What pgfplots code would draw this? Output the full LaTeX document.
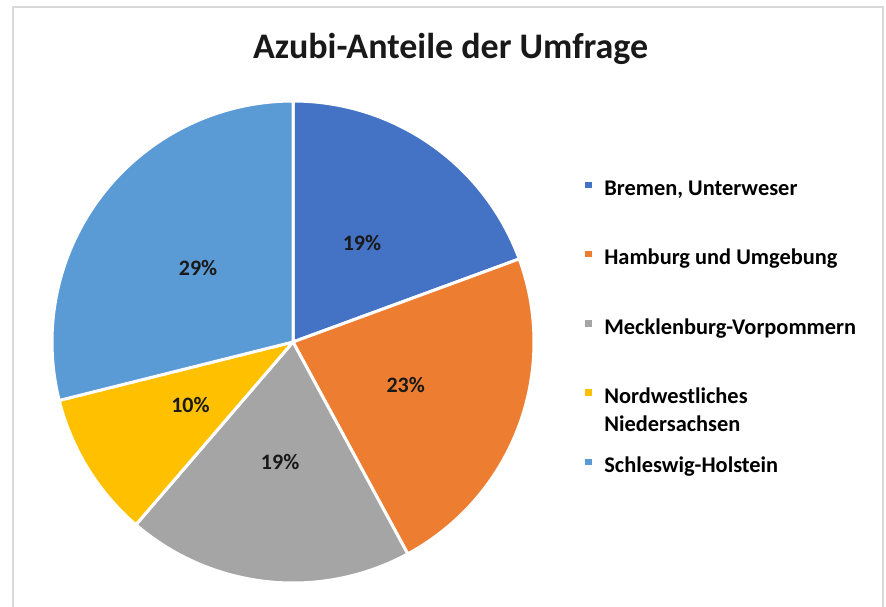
\documentclass[border=0pt]{standalone}
\usepackage{pgfplots}
\pgfplotsset{compat=1.18}
\usepackage{fontspec}
\setmainfont{Carlito}
\definecolor{cBremen}{HTML}{4472C4}
\definecolor{cHamburg}{HTML}{ED7D31}
\definecolor{cMeck}{HTML}{A5A5A5}
\definecolor{cNord}{HTML}{FFC000}
\definecolor{cSH}{HTML}{5B9BD5}
\definecolor{frameGray}{HTML}{D9D9D9}
% shares in percent (read off the picture)
\def\sA{19.4}\def\sB{22.7}\def\sC{19.2}\def\sD{9.8}\def\sE{28.9}
\pgfmathsetmacro\aA{90}
\pgfmathsetmacro\aB{\aA-3.6*\sA}
\pgfmathsetmacro\aC{\aB-3.6*\sB}
\pgfmathsetmacro\aD{\aC-3.6*\sC}
\pgfmathsetmacro\aE{\aD-3.6*\sD}
\pgfmathsetmacro\aF{\aE-3.6*\sE}
\begin{document}
\begin{tikzpicture}
\useasboundingbox (0,0) rectangle (664.5pt,-455.25pt);
\draw[color=frameGray, line width=1.5pt] (10pt,-480pt) -- (10pt,-5pt) -- (662pt,-5pt) -- (662pt,-480pt);
\node[font=\fontsize{27}{32}\selectfont\bfseries, anchor=base, text=black!90] at (338pt,-44pt) {Azubi-Anteile der Umfrage};
\begin{axis}[at={(219.75pt,-256.5pt)}, anchor=center,
  width=361.5pt, height=361.5pt, scale only axis, hide axis,
  xmin=-1, xmax=1, ymin=-1, ymax=1, clip=false,
  legend style={at={(1.099,0.839)}, anchor=north west, draw=none, fill=none,
    inner sep=0pt, row sep=35.7pt, column sep=7pt,
    font=\fontsize{16.8}{21}\selectfont\bfseries,
    nodes={inner sep=0pt, text height=11pt, text depth=3.5pt, align=left}},
  legend cell align=left,
  legend image code/.code={\fill[#1] (0pt,0.8pt) rectangle (7.5pt,7.8pt);},
  wedge/.style={draw=white, line width=2.25pt, samples=90, variable=\t}]
\addplot[wedge, fill=cBremen, domain=\aB:\aA] ({cos(\t)},{sin(\t)}) -- (axis cs:0,0) -- cycle;
\addlegendentry{Bremen, Unterweser}
\addplot[wedge, fill=cHamburg, domain=\aC:\aB] ({cos(\t)},{sin(\t)}) -- (axis cs:0,0) -- cycle;
\addlegendentry{Hamburg und Umgebung}
\addplot[wedge, fill=cMeck, domain=\aD:\aC] ({cos(\t)},{sin(\t)}) -- (axis cs:0,0) -- cycle;
\addlegendentry{Mecklenburg-Vorpommern}
\addplot[wedge, fill=cNord, domain=\aE:\aD] ({cos(\t)},{sin(\t)}) -- (axis cs:0,0) -- cycle;
\addlegendentry{\begin{tabular}[t]{@{}l@{}}Nordwestliches\\Niedersachsen\end{tabular}}
\addplot[wedge, fill=cSH, domain=\aF:\aE] ({cos(\t)},{sin(\t)}) -- (axis cs:0,0) -- cycle;
\addlegendentry{Schleswig-Holstein}
\addplot[forget plot, draw=none, mark=none, nodes near coords, point meta=explicit symbolic,
  every node near coord/.style={font=\fontsize{16.5}{20}\selectfont\bfseries, anchor=center, text=black!90}]
  coordinates {(0.2863,0.4099) [19\%] (0.4677,-0.1767) [23\%] (-0.0533,-0.4972) [19\%]
               (-0.4256,-0.2626) [10\%] (-0.3941,0.3077) [29\%]};
\end{axis}
\end{tikzpicture}
\end{document}
